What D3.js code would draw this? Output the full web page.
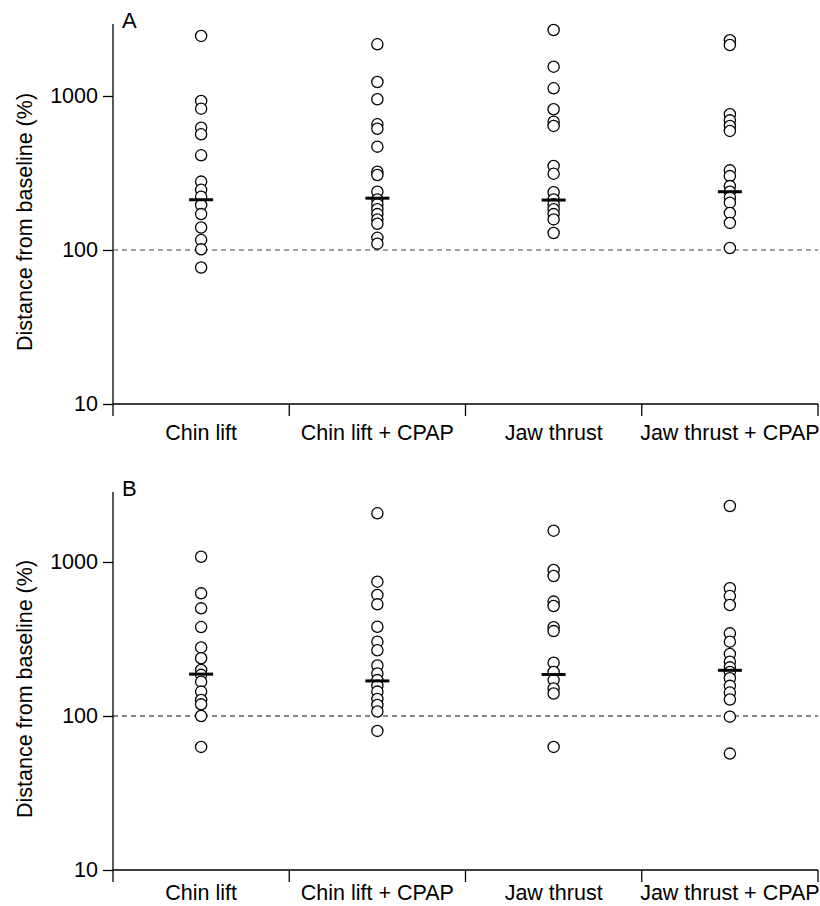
<!DOCTYPE html>
<html>
<head>
<meta charset="utf-8">
<script src="https://d3js.org/d3.v7.min.js"></script>
<style>
  body { margin: 0; background: #fff; }
  svg text { font-family: "Liberation Sans", Arial, Helvetica, sans-serif; fill: #000; }
</style>
</head>
<body>
<div id="chart"></div>
<script>
  const categories = ["Chin lift", "Chin lift + CPAP", "Jaw thrust", "Jaw thrust + CPAP"];
  const yTicks = [10, 100, 1000];

  // Panel A: distance from baseline (%), one array per manoeuvre
  const panelAChinLift = [2455, 929, 827, 622, 564, 412, 278, 246, 222, 196, 171, 140, 116, 101, 77];
  const panelAChinLiftCpap = [2166, 1233, 952, 655, 613, 469, 322, 307, 239, 213, 198, 184, 171, 158, 148, 120, 110];
  const panelAJawThrust = [2683, 1550, 1122, 820, 681, 639, 351, 313, 237, 213, 198, 184, 171, 158, 129];
  const panelAJawThrustCpap = [2300, 2143, 761, 695, 639, 593, 329, 302, 260, 239, 219, 203, 174, 150, 103];
  const panelAMedians = [212, 217, 211, 239];

  // Panel B
  const panelBChinLift = [1082, 626, 500, 378, 279, 237, 199, 185, 167, 144, 127, 119, 100, 63];
  const panelBChinLiftCpap = [2071, 745, 611, 531, 380, 304, 267, 213, 189, 171, 157, 144, 129, 118, 107, 80];
  const panelBJawThrust = [1597, 887, 811, 553, 518, 377, 356, 222, 193, 171, 151, 140, 63];
  const panelBJawThrustCpap = [2310, 675, 601, 526, 344, 304, 253, 225, 207, 193, 176, 157, 142, 128, 99, 57];
  const panelBMedians = [187, 169, 186, 198];

  const width = 820, height = 906;
  const fontSize = "21.5px";
  const svg = d3.select("#chart").append("svg")
    .attr("width", width)
    .attr("height", height);

  function drawPanel(opts) {
    const { letter, series, medians, top, bottom, labelOffset, dashColor } = opts;
    const left = 113, right = 818;
    const decade = 154;

    const x = d3.scaleBand().domain(categories).range([left, right]).paddingInner(0).paddingOuter(0);
    const y = d3.scaleLog().domain([10, 1000]).range([bottom, bottom - 2 * decade]);

    const g = svg.append("g");

    // axis lines (y axis runs down past the x axis like a tick)
    g.append("line")
      .attr("x1", left).attr("x2", left)
      .attr("y1", top).attr("y2", bottom + 12)
      .attr("stroke", "#000").attr("stroke-width", 1.3);
    g.append("line")
      .attr("x1", left).attr("x2", right)
      .attr("y1", bottom).attr("y2", bottom)
      .attr("stroke", "#000").attr("stroke-width", 1.3);

    // y ticks
    const yAxis = g.append("g")
      .attr("transform", `translate(${left},0)`)
      .call(d3.axisLeft(y).tickValues(yTicks).tickFormat(d3.format("d")).tickSize(10).tickSizeOuter(0));
    yAxis.select(".domain").remove();
    yAxis.selectAll(".tick line").attr("stroke", "#000").attr("stroke-width", 1.3);
    yAxis.selectAll(".tick text")
      .attr("x", -15)
      .style("font-size", fontSize)
      .style("font-family", "Liberation Sans, Arial, sans-serif");

    // x ticks at category boundaries
    const bounds = categories.map((c) => x(c) + x.bandwidth());
    g.selectAll("line.xtick")
      .data(bounds)
      .enter()
      .append("line")
      .attr("class", "xtick")
      .attr("x1", (d) => d).attr("x2", (d) => d)
      .attr("y1", bottom).attr("y2", bottom + 12)
      .attr("stroke", "#000").attr("stroke-width", 1.3);

    g.selectAll("text.xlabel")
      .data(categories)
      .enter()
      .append("text")
      .attr("class", "xlabel")
      .attr("x", (d) => x(d) + x.bandwidth() / 2)
      .attr("y", bottom + labelOffset)
      .attr("text-anchor", "middle")
      .style("font-size", fontSize)
      .text((d) => d);

    // baseline 100 %
    g.append("line")
      .attr("x1", left).attr("x2", right)
      .attr("y1", y(100)).attr("y2", y(100))
      .attr("stroke", dashColor).attr("stroke-width", 1.2)
      .attr("stroke-dasharray", "5,4");

    // points
    series.forEach((vals, i) => {
      const cx = x(categories[i]) + x.bandwidth() / 2;
      g.selectAll(null)
        .data(vals)
        .enter()
        .append("circle")
        .attr("cx", cx)
        .attr("cy", (d) => y(d))
        .attr("r", 5.6)
        .attr("fill", "#fff")
        .attr("stroke", "#000")
        .attr("stroke-width", 1.3);
    });

    // medians
    g.selectAll("line.median")
      .data(medians)
      .enter()
      .append("line")
      .attr("class", "median")
      .attr("x1", (d, i) => x(categories[i]) + x.bandwidth() / 2 - 12)
      .attr("x2", (d, i) => x(categories[i]) + x.bandwidth() / 2 + 12)
      .attr("y1", (d) => y(d)).attr("y2", (d) => y(d))
      .attr("stroke", "#000").attr("stroke-width", 3);

    // y label
    g.append("text")
      .attr("transform", `translate(32,${(top + bottom) / 2 + 8}) rotate(-90)`)
      .attr("text-anchor", "middle")
      .style("font-size", fontSize)
      .text("Distance from baseline (%)");

    // panel letter
    g.append("text")
      .attr("x", left + 9)
      .attr("y", top + 4)
      .style("font-size", "22px")
      .text(letter);
  }

  drawPanel({
    letter: "A",
    series: [panelAChinLift, panelAChinLiftCpap, panelAJawThrust, panelAJawThrustCpap],
    medians: panelAMedians,
    top: 24,
    bottom: 404,
    labelOffset: 36,
    dashColor: "#444",
  });

  drawPanel({
    letter: "B",
    series: [panelBChinLift, panelBChinLiftCpap, panelBJawThrust, panelBJawThrustCpap],
    medians: panelBMedians,
    top: 492,
    bottom: 870,
    labelOffset: 30,
    dashColor: "#111",
  });
</script>
</body>
</html>
